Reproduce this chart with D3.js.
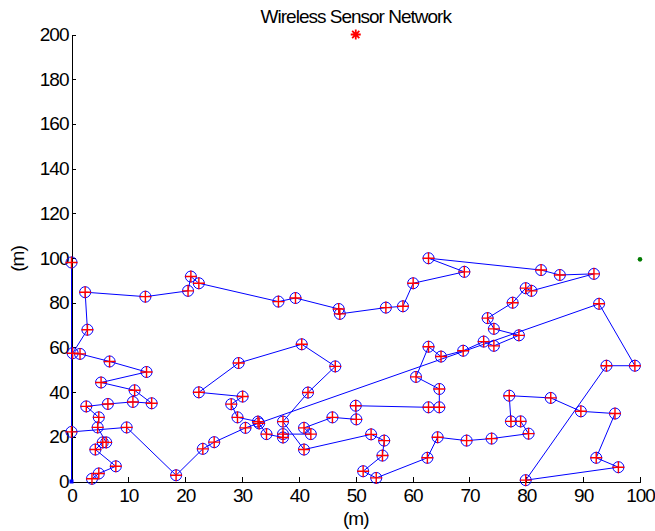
<!DOCTYPE html>
<html>
<head>
<meta charset="utf-8">
<script src="https://cdn.jsdelivr.net/npm/d3@7"></script>
<style>
  html, body { margin: 0; padding: 0; background: #fff; }
  svg { display: block; }
  .axis text { font-family: "Liberation Sans", Arial, sans-serif; font-size: 19px; letter-spacing: -1px; fill: #000; }
  .axis path, .axis line { stroke: #000; stroke-width: 1; shape-rendering: crispEdges; }
  .lbl { font-family: "Liberation Sans", Arial, sans-serif; font-size: 19px; letter-spacing: -1px; fill: #000; }
</style>
</head>
<body>
<svg id="chart" width="655" height="531"></svg>
<script>
// ---- data (in chain order) ----
const nodeX = [3.6, 4.8, 7.8, 4.2, 5.5, 6.1, 4.6, 4.8, 2.6, 6.4,
               10.8, 14.1, 11.1, 5.2, 13.2, 6.7, 1.5, 0.2, 2.8, 2.4,
               13.0, 20.5, 21.0, 22.4, 36.4, 39.4, 47.0, 47.2, 55.3, 58.3,
               60.1, 69.1, 62.8, 82.6, 85.9, 91.9, 80.9, 79.9, 77.6, 73.2,
               74.3, 78.7, 74.3, 72.5, 68.9, 65.0, 62.8, 60.6, 64.7, 64.7,
               62.8, 50.0, 50.1, 45.9, 40.9, 42.1, 37.2, 37.2, 34.3, 33.0,
               32.8, 29.2, 28.1, 30.1, 22.4, 29.4, 40.5, 46.4, 41.6, 37.2,
               40.9, 52.7, 55.0, 54.7, 51.3, 53.6, 62.6, 64.4, 69.5, 73.9,
               80.4, 79.0, 77.3, 77.0, 84.3, 89.6, 95.6, 92.3, 96.2, 79.9,
               94.1, 99.1, 92.8, 30.6, 25.1, 23.1, 18.4, 9.7, 0.0, 0.0];
const nodeY = [1.2, 3.6, 6.8, 14.3, 17.5, 17.5, 24.2, 28.7, 33.6, 34.7,
               35.6, 35.0, 40.8, 44.3, 49.0, 53.7, 57.1, 57.4, 67.9, 84.7,
               82.7, 85.3, 91.7, 88.7, 80.5, 82.1, 77.2, 75.0, 77.8, 78.4,
               88.7, 93.8, 99.9, 94.6, 92.4, 92.9, 85.3, 86.5, 80.0, 73.1,
               68.3, 65.4, 60.7, 62.6, 58.5, 55.9, 60.3, 46.8, 41.4, 33.2,
               33.2, 33.9, 27.8, 28.7, 24.0, 21.2, 21.2, 19.7, 21.2, 26.0,
               26.8, 28.7, 34.6, 38.0, 39.9, 53.0, 61.4, 51.5, 39.8, 26.8,
               14.3, 21.1, 18.3, 11.6, 4.6, 1.6, 10.6, 19.8, 18.3, 19.2,
               21.4, 26.9, 26.9, 38.4, 37.4, 31.4, 30.4, 10.6, 6.4, 0.6,
               51.8, 51.8, 79.5, 24.0, 17.6, 14.6, 2.8, 24.2, 22.2, 98.0];
const chainEndX = [0];   // trailing chain point at the origin
const chainEndY = [0];
const sinkX = [50];
const sinkY = [200];
const greenX = [100];
const greenY = [99.4];
const xTicks = [0, 10, 20, 30, 40, 50, 60, 70, 80, 90, 100];
const yTicks = [0, 20, 40, 60, 80, 100, 120, 140, 160, 180, 200];
const titleText = "Wireless Sensor Network";
const xLabel = "(m)";
const yLabel = "(m)";

// ---- layout ----
const svg = d3.select("#chart");
const x = d3.scaleLinear().domain([0, 100]).range([71.5, 640]);
const y = d3.scaleLinear().domain([0, 200]).range([481.5, 34.5]);

// axes
svg.append("g").attr("class", "axis")
  .attr("transform", `translate(0,${y(0)})`)
  .call(d3.axisBottom(x).tickValues(xTicks).tickFormat(d3.format("d"))
        .tickSizeInner(-5).tickSizeOuter(0).tickPadding(7));
svg.append("g").attr("class", "axis")
  .attr("transform", `translate(${x(0)},0)`)
  .call(d3.axisLeft(y).tickValues(yTicks).tickFormat(d3.format("d"))
        .tickSizeInner(-4).tickSizeOuter(0).tickPadding(3));

// labels
svg.append("text").attr("class", "lbl").attr("x", (x(0) + x(100)) / 2).attr("y", 23)
  .attr("text-anchor", "middle").text(titleText);
svg.append("text").attr("class", "lbl").attr("x", (x(0) + x(100)) / 2).attr("y", 525)
  .attr("text-anchor", "middle").text(xLabel);
svg.append("text").attr("class", "lbl")
  .attr("transform", `translate(24,${y(100) + 1}) rotate(-90)`)
  .attr("text-anchor", "middle").text(yLabel);

// chain
const pts = nodeX.map((d, i) => [d, nodeY[i]])
  .concat(chainEndX.map((d, i) => [d, chainEndY[i]]));
const line = d3.line().x(d => x(d[0])).y(d => y(d[1]));
svg.append("path").datum(pts).attr("d", line)
  .attr("fill", "none").attr("stroke", "#0000ff").attr("stroke-width", 1);

// origin end point
svg.selectAll(".endpt").data(chainEndX).join("rect").attr("class", "endpt")
  .attr("x", (d) => x(d) - 2).attr("y", (d, i) => y(chainEndY[i]) - 2)
  .attr("width", 4).attr("height", 4).attr("fill", "#0000ff");

// nodes: blue circles + red plus
const nodes = nodeX.map((d, i) => ({ x: d, y: nodeY[i] }));
svg.selectAll(".nc").data(nodes).join("circle").attr("class", "nc")
  .attr("cx", d => x(d.x)).attr("cy", d => y(d.y)).attr("r", 5.5)
  .attr("fill", "none").attr("stroke", "#0000ff").attr("stroke-width", 1);
svg.selectAll(".np").data(nodes).join("path").attr("class", "np")
  .attr("transform", d => `translate(${x(d.x)},${y(d.y)})`)
  .attr("d", "M-6,0H6M0,-6V6")
  .attr("fill", "none").attr("stroke", "#ff0000").attr("stroke-width", 1.4);

// sink (red asterisk)
svg.selectAll(".sink").data(sinkX).join("path").attr("class", "sink")
  .attr("transform", (d, i) => `translate(${x(d)},${y(sinkY[i])})`)
  .attr("d", "M-5,0H5M0,-5V5M-3.6,-3.6L3.6,3.6M-3.6,3.6L3.6,-3.6")
  .attr("fill", "none").attr("stroke", "#ff0000").attr("stroke-width", 1.8);

// green point
svg.selectAll(".gp").data(greenX).join("circle").attr("class", "gp")
  .attr("cx", d => x(d)).attr("cy", (d, i) => y(greenY[i])).attr("r", 2.3)
  .attr("fill", "#007a00");
</script>
</body>
</html>
